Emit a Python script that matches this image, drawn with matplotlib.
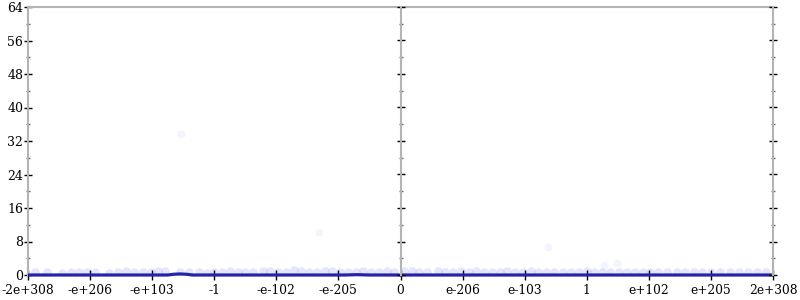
import numpy as np
import matplotlib
matplotlib.use('Agg')
import matplotlib.pyplot as plt
from matplotlib.ticker import MultipleLocator

# x positions are ordinal slots on the float scale (-6 .. 6)
tick_pos = [-6, -5, -4, -3, -2, -1, 0, 1, 2, 3, 4, 5, 6]
tick_labels = ['-2e+308', '-e+206', '-e+103', '-1', '-e-102', '-e-205', '0',
               'e-206', 'e-103', '1', 'e+102', 'e+205', '2e+308']

# histogram outline (counts per bin, nearly all zero)
hist_x = [-6.0, -3.75, -3.65, -3.55, -3.45, -3.35, -0.9, -0.7, -0.5, 6.0]
hist_y = [0.0, 0.0, 0.18, 0.25, 0.18, 0.0, 0.0, 0.08, 0.0, 0.0]

# faint scatter of per-sample counts
dot_x = [-5.88, -5.70, -5.45, -5.30, -5.18, -5.05, -4.92, -4.70, -4.55, -4.42,
         -4.30, -4.15, -4.02, -3.90, -3.80, -3.55, -3.40, -3.25, -3.12, -3.00,
         -2.88, -2.75, -2.62, -2.50, -2.38, -2.22, -2.10, -1.98, -1.85, -1.72,
         -1.60, -1.48, -1.35, -1.22, -1.10, -0.98, -0.85, -0.72, -0.60, -0.48,
         -0.35, -0.22, -0.10, 0.05, 0.18, 0.30, 0.42, 0.60, 0.72, 0.85,
         0.98, 1.10, 1.22, 1.35, 1.48, 1.60, 1.72, 1.85, 1.98, 2.10,
         2.22, 2.35, 2.48, 2.62, 2.75, 2.88, 3.00, 3.12, 3.25, 3.38,
         3.52, 3.65, 3.78, 3.90, 4.02, 4.15, 4.30, 4.45, 4.58, 4.72,
         4.85, 5.00, 5.15, 5.30, 5.45, 5.60, 5.75, 5.88]
dot_y = [0.6, 0.7, 0.5, 0.8, 0.6, 0.7, 0.8, 0.5, 0.7, 0.9,
         0.6, 0.8, 0.7, 0.9, 1.0, 0.8, 0.6, 0.7, 0.5, 0.8,
         0.6, 0.9, 0.7, 0.8, 0.6, 1.0, 0.9, 0.7, 0.8, 1.1,
         0.9, 0.7, 0.8, 1.0, 0.9, 0.7, 0.8, 0.6, 0.9, 0.7,
         0.8, 0.9, 0.7, 0.9, 1.0, 0.8, 0.7, 0.9, 0.8, 0.7,
         1.0, 0.8, 0.9, 0.7, 0.8, 0.6, 0.9, 0.8, 0.7, 0.9,
         0.8, 0.6, 0.7, 0.8, 0.6, 0.7, 0.9, 0.8, 0.7, 0.6,
         0.8, 0.7, 0.6, 0.8, 0.7, 0.6, 0.8, 0.7, 0.6, 0.7,
         0.8, 0.6, 0.7, 0.6, 0.8, 0.7, 0.6, 0.7]

# a few stray outliers
stray_x = [-3.54, -1.32, 2.38, 3.28, 3.49]
stray_y = [33.7, 10.3, 6.7, 2.4, 2.9]

axis_gray = '#b4b4b4'
line_blue = '#2424a8'

plt.rcParams['font.family'] = 'DejaVu Serif'

fig = plt.figure(figsize=(8, 3), dpi=100)
ax = fig.add_axes([28 / 800, 1 - 275 / 300, 745 / 800, 268 / 300])

ax.scatter(dot_x, dot_y, s=38, color='#3a3ae8', alpha=0.13, linewidths=0)
ax.scatter(stray_x, stray_y, s=34, color='#3a3ae8', alpha=0.05, linewidths=0)
ax.plot(hist_x, hist_y, color=line_blue, lw=2.3, solid_capstyle='butt',
        zorder=5, clip_on=False)

ax.set_xlim(-6, 6)
ax.set_ylim(0, 64)
ax.set_xticks(tick_pos)
ax.set_xticklabels(tick_labels)
ax.yaxis.set_major_locator(MultipleLocator(8))
ax.yaxis.set_minor_locator(MultipleLocator(4))

for side in ['right', 'bottom']:
    ax.spines[side].set_visible(False)
ax.spines['left'].set_color(axis_gray)
ax.spines['top'].set_color(axis_gray)
ax.spines['left'].set_linewidth(1.5)
ax.spines['top'].set_linewidth(1.5)

ax.tick_params(axis='y', which='major', direction='inout', length=6, width=1,
               color='black', labelsize=9, pad=0.5)
ax.tick_params(axis='y', which='minor', direction='inout', length=3.5, width=1,
               color='#666666')
ax.tick_params(axis='x', which='major', direction='inout', length=6.5, width=1,
               color='black', labelsize=8.8, pad=3)

# extra vertical axes at centre and right edge
for frac in [0.5, 1.0]:
    tw = ax.twinx()
    tw.set_ylim(0, 64)
    for side in ['left', 'top', 'bottom']:
        tw.spines[side].set_visible(False)
    tw.spines['right'].set_position(('axes', frac))
    tw.spines['right'].set_color(axis_gray)
    tw.spines['right'].set_linewidth(1.5)
    tw.yaxis.set_major_locator(MultipleLocator(8))
    tw.yaxis.set_minor_locator(MultipleLocator(4))
    tw.tick_params(axis='y', which='major', direction='inout', length=6,
                   width=1, color='black', labelright=False)
    tw.tick_params(axis='y', which='minor', direction='inout', length=3.5,
                   width=1, color='#666666')

fig.savefig('out.png', dpi=100)
